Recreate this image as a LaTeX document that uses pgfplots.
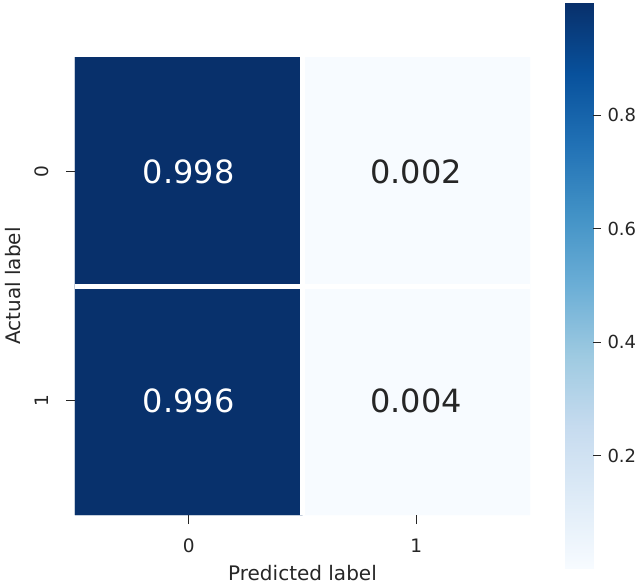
\documentclass[border=0pt]{standalone}
\usepackage{fontspec}
\setmainfont{DejaVu Sans}
\usepackage{pgfplots}
\pgfplotsset{compat=1.18}
\definecolor{txt}{HTML}{262626}
\pgfplotsset{
  colormap={blues}{rgb255=(247,251,255) rgb255=(222,235,247) rgb255=(198,219,239) rgb255=(158,202,225) rgb255=(107,174,214) rgb255=(66,146,198) rgb255=(33,113,181) rgb255=(8,81,156) rgb255=(8,48,107)},
}
\begin{document}
\begin{tikzpicture}
\begin{axis}[
  name=ax,
  at={(0pt,0pt)}, anchor=south west,
  scale only axis, width=455pt, height=458pt,
  xmin=-0.5, xmax=1.5, ymin=-0.5, ymax=1.5,
  y dir=reverse,
  axis on top,
  axis line style={draw=none},
  xtick={0,1}, ytick={0,1},
  xticklabels={0,1}, yticklabels={0,1},
  xtick pos=bottom, ytick pos=left,
  tick align=outside, major tick length=9pt,
  tick style={txt, line width=1.2pt},
  xticklabel style={font=\fontsize{18.5}{20}\selectfont, text=txt},
  yticklabel style={font=\fontsize{18.5}{20}\selectfont, text=txt, rotate=90, anchor=south},
  xticklabel shift=11pt, yticklabel shift=14pt,
  extra x ticks={0.5}, extra y ticks={0.5},
  extra x tick labels={}, extra y tick labels={},
  extra tick style={grid=major, major grid style={white, line width=5pt}, major tick length=0pt},
  colormap name=blues,
  point meta min=0.002, point meta max=0.998,
  /pgf/number format/assume math mode=true,
]
\addplot[matrix plot*, mesh/cols=2, mesh/rows=2, point meta=explicit] table[meta=z] {
x y z
0 0 0.998
1 0 0.002
0 1 0.996
1 1 0.004
};
\addplot[only marks, mark=none, point meta=explicit,
  nodes near coords={\pgfmathprintnumber[fixed,precision=3,fixed zerofill,assume math mode=true]{\pgfplotspointmeta}},
  nodes near coords style={white, anchor=center, font=\fontsize{32}{34}\selectfont}] table[meta=z] {
x y z
0 0 0.998
0 1 0.996
};
\addplot[only marks, mark=none, point meta=explicit,
  nodes near coords={\pgfmathprintnumber[fixed,precision=3,fixed zerofill,assume math mode=true]{\pgfplotspointmeta}},
  nodes near coords style={txt, anchor=center, font=\fontsize{32}{34}\selectfont}] table[meta=z] {
x y z
1 0 0.002
1 1 0.004
};
\end{axis}
% colour bar
\begin{axis}[
  at={(ax.south east)}, anchor=south west, xshift=35pt, yshift=-53pt,
  scale only axis, width=28pt, height=565pt,
  xmin=0, xmax=1, ymin=0.002, ymax=0.998,
  axis line style={draw=none},
  xtick=\empty,
  ytick={0.2,0.4,0.6,0.8},
  ytick pos=right, yticklabel pos=right,
  yticklabel shift=3pt,
  yticklabel style={font=\fontsize{18}{20}\selectfont, text=txt, /pgf/number format/fixed, /pgf/number format/precision=1, /pgf/number format/assume math mode=true},
  tick align=outside, major tick length=8pt,
  tick style={txt, line width=1.2pt},
  colormap name=blues,
  point meta min=0.002, point meta max=0.998,
  axis on top,
]
\addplot[surf, shader=interp, point meta=y, mesh/rows=2] table {
x y
0 0.002
1 0.002

0 0.998
1 0.998
};
\end{axis}
\node[font=\fontsize{20}{22}\selectfont, text=txt] at ([yshift=-58pt]ax.south) {Predicted label};
\node[font=\fontsize{20}{22}\selectfont, text=txt, rotate=90] at ([xshift=-62pt]ax.west) {Actual label};
\pgfresetboundingbox
\path[use as bounding box] (-75pt,-72pt) rectangle (569pt,515pt);
\end{tikzpicture}
\end{document}
